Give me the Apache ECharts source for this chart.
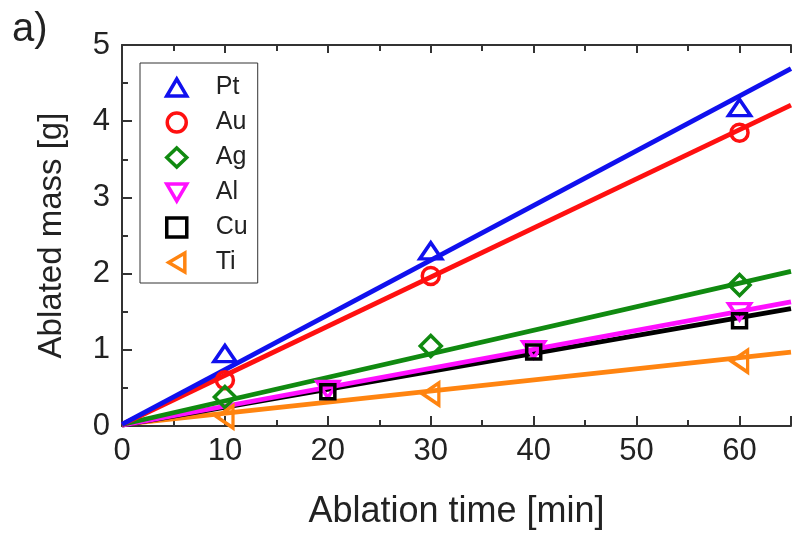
<!DOCTYPE html>
<html>
<head>
<meta charset="utf-8">
<script src="https://cdn.jsdelivr.net/npm/echarts@6/dist/echarts.min.js"></script>
<style>html,body{margin:0;padding:0;background:#fff;}#c{width:794px;height:536px;}</style>
</head>
<body>
<div id="c"></div>
<script>
// Data
const names = ['Pt', 'Au', 'Ag', 'Al', 'Cu', 'Ti'];
const timesPt = [10, 30, 60];
const massPt = [0.95, 2.30, 4.18];
const timesAu = [10, 30, 60];
const massAu = [0.60, 1.97, 3.85];
const timesAg = [10, 30, 60];
const massAg = [0.38, 1.05, 1.85];
const timesAl = [20, 40, 60];
const massAl = [0.48, 1.00, 1.50];
const timesCu = [20, 40, 60];
const massCu = [0.45, 0.97, 1.38];
const timesTi = [10, 30, 60];
const massTi = [0.12, 0.42, 0.85];
// linear fit lines: [x, y] endpoints
const fitX = [0, 65];
const fitPt = [0.02, 4.69];
const fitAu = [0.02, 4.21];
const fitAg = [0.02, 2.03];
const fitAl = [0.01, 1.63];
const fitCu = [0.01, 1.54];
const fitTi = [0.02, 0.97];
const xTicks = [0, 10, 20, 30, 40, 50, 60];
const yTicks = [0, 1, 2, 3, 4, 5];

const colors = {Pt: '#1010ee', Au: '#ff1010', Ag: '#108a10', Al: '#ff10ff', Cu: '#000000', Ti: '#ff8410'};
const triUp = 'path://M0,17 L10,0 L20,17 Z';
const triDown = 'path://M0,0 L20,0 L10,17 Z';
const triLeft = 'path://M17,0 L17,20 L0,10 Z';
const symbols = {Pt: [triUp, [22, 19]], Au: ['circle', 17], Ag: ['diamond', [21, 21]], Al: [triDown, [22, 19]], Cu: ['rect', 14], Ti: [triLeft, [19, 22]]};
const pts = {Pt: [timesPt, massPt], Au: [timesAu, massAu], Ag: [timesAg, massAg], Al: [timesAl, massAl], Cu: [timesCu, massCu], Ti: [timesTi, massTi]};
const fits = {Pt: fitPt, Au: fitAu, Ag: fitAg, Al: fitAl, Cu: fitCu, Ti: fitTi};

const series = [];
const lineOrder = ['Ti', 'Cu', 'Al', 'Ag', 'Au', 'Pt'];
lineOrder.forEach(n => {
  series.push({
    type: 'line', name: n + ' fit', data: fitX.map((x, i) => [x, fits[n][i]]),
    showSymbol: false, symbol: 'none', lineStyle: {color: colors[n], width: 4.8},
    silent: true, z: 2, clip: true
  });
});
names.forEach(n => {
  series.push({
    type: 'scatter', name: n,
    data: pts[n][0].map((x, i) => [x, pts[n][1][i]]),
    symbol: symbols[n][0], symbolSize: symbols[n][1], symbolKeepAspect: true,
    itemStyle: {color: 'rgba(0,0,0,0)', borderColor: colors[n], borderWidth: 3.5, opacity: 1},
    z: 3
  });
});

const font = 'Liberation Sans, Arial, sans-serif';
const chart = echarts.init(document.getElementById('c'), null, {renderer: 'canvas'});
chart.setOption({
  animation: false,
  backgroundColor: '#fff',
  graphic: [{type: 'text', left: 12, top: 10, style: {text: 'a)', fontSize: 40, fontFamily: font, fill: '#222'}}],
  legend: {
    data: names, orient: 'vertical', left: 140, top: 63,
    padding: [12, 10, 8, 25], itemGap: 10, itemWidth: 20, itemHeight: 19,
    symbolKeepAspect: true,
    itemStyle: {borderWidth: 3.5, opacity: 1},
    borderColor: '#333', borderWidth: 1, borderRadius: 0,
    textStyle: {fontSize: 25, fontFamily: font, color: '#222', padding: [0, 0, 0, 24]}
  },
  grid: {left: 122, right: -6, top: 45, bottom: 110, containLabel: false},
  xAxis: [{
    type: 'value', min: 0, max: 65, interval: 10,
    name: 'Ablation time [min]', nameLocation: 'middle', nameGap: 68,
    nameTextStyle: {fontSize: 36, fontFamily: font, color: '#222'},
    axisLine: {show: true, lineStyle: {color: '#333', width: 2}},
    axisTick: {show: true, inside: true, length: 10, lineStyle: {color: '#333', width: 2}},
    minorTick: {show: true, splitNumber: 2, length: 6, lineStyle: {color: '#333', width: 2}},
    splitLine: {show: false},
    axisLabel: {fontSize: 31, fontFamily: font, color: '#222', margin: 10,
      formatter: v => xTicks.indexOf(v) >= 0 ? String(v) : ''}
  }, {
    type: 'value', min: 0, max: 65, interval: 10, position: 'top',
    axisLine: {show: true, lineStyle: {color: '#333', width: 2}},
    axisTick: {show: true, inside: true, length: 8, lineStyle: {color: '#333', width: 2}},
    minorTick: {show: true, splitNumber: 2, length: 6, lineStyle: {color: '#333', width: 2}},
    splitLine: {show: false}, axisLabel: {show: false}
  }],
  yAxis: [{
    type: 'value', min: 0, max: 5, interval: 1,
    name: 'Ablated mass [g]', nameLocation: 'middle', nameGap: 54,
    nameTextStyle: {fontSize: 33, fontFamily: font, color: '#222'},
    axisLine: {show: true, lineStyle: {color: '#333', width: 2}},
    axisTick: {show: true, inside: true, length: 10, lineStyle: {color: '#333', width: 2}},
    minorTick: {show: true, splitNumber: 2, length: 6, lineStyle: {color: '#333', width: 2}},
    splitLine: {show: false},
    axisLabel: {fontSize: 31, fontFamily: font, color: '#222', margin: 12,
      formatter: v => yTicks.indexOf(v) >= 0 ? String(v) : ''}
  }],
  series: series
});
</script>
</body>
</html>
